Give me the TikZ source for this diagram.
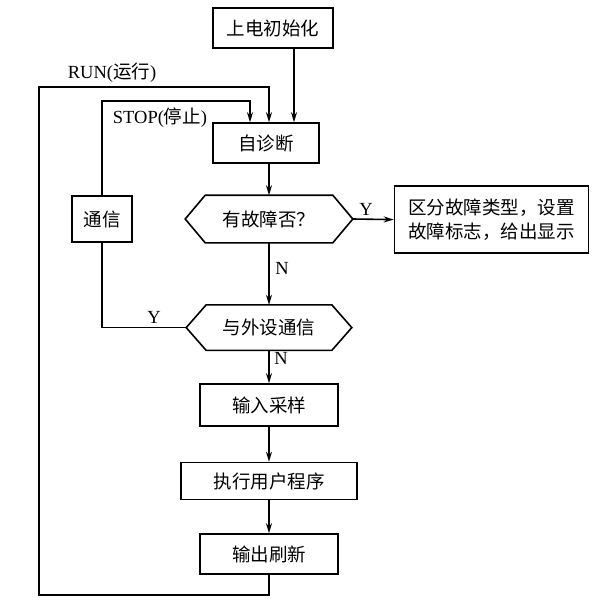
\documentclass[tikz,border=0pt]{standalone}
\usepackage{fontspec}
\setmainfont{Liberation Serif}
\newfontfamily\cjk{Noto Sans CJK SC}
\usetikzlibrary{arrows.meta}
\begin{document}
\begin{tikzpicture}[x=1pt,y=-1pt,line width=1.6pt,
  box/.style={draw,rectangle,inner sep=0pt,font=\cjk\fontsize{18.5}{24.5}\selectfont,align=center},
  hexbody/.style={rectangle,inner sep=0pt,font=\cjk\fontsize{18.5}{24.5}\selectfont},
  arr/.style={-{Stealth[length=10pt,width=6pt]}},
  lab/.style={font=\fontsize{18.5}{20}\selectfont,inner sep=0pt}]
\useasboundingbox (0,0) rectangle (612,613);
\fill[white] (0,0) rectangle (612,613);
% nodes
\node[box,minimum width=120pt,minimum height=40pt] (init) at (273,28) {上电初始化};
\node[box,minimum width=106pt,minimum height=40pt] (diag) at (266,143) {自诊断};
\node[hexbody,minimum width=126pt,minimum height=46pt] (fault) at (269,219) {有故障否？};
\coordinate (faultE) at ([xshift=20pt]fault.east);
\coordinate (faultW) at ([xshift=-20pt]fault.west);
\draw (fault.north west) -- (fault.north east) -- (faultE) -- (fault.south east) -- (fault.south west) -- (faultW) -- cycle;
\node[box,minimum width=194pt,minimum height=67pt] (mark) at (491.5,219.6) {区分故障类型，设置\\故障标志，给出显示};
\node[box,minimum width=60pt,minimum height=46pt] (comm) at (102,219) {通信};
\node[hexbody,minimum width=124pt,minimum height=44pt] (ext) at (269,327.6) {与外设通信};
\coordinate (extE) at ([xshift=20pt]ext.east);
\coordinate (extW) at ([xshift=-20pt]ext.west);
\draw (ext.north west) -- (ext.north east) -- (extE) -- (ext.south east) -- (ext.south west) -- (extW) -- cycle;
\node[box,minimum width=138pt,minimum height=42pt] (inp) at (269,405) {输入采样};
\node[box,minimum width=176pt,minimum height=37pt] (exe) at (269,481) {执行用户程序};
\node[box,minimum width=138pt,minimum height=40pt] (outp) at (269,554) {输出刷新};
% helper coordinates
\coordinate (runTL) at (39,87);
\coordinate (loopBL) at (39,595);
\coordinate (stopR) at (250,101);
% connectors
\draw[arr] ([xshift=21pt]init.south) -- ([xshift=21pt]init.south |- diag.north);
\draw[arr] (diag.south -| fault.north) -- (fault.north);
\draw[arr] (faultE) -- (mark.west);
\draw[arr] (fault.south) -- (ext.north);
\draw[arr] (ext.south) -- (inp.north);
\draw[arr] (inp.south) -- (exe.north);
\draw[arr] (exe.south) -- (outp.north);
\draw[arr] (outp.south) -- (outp.south |- loopBL) -- (loopBL) -- (runTL) -- (runTL -| fault.north) -- (diag.north -| fault.north);
\draw (extW) -- (extW -| comm.south) -- (comm.south);
\draw[arr] (comm.north) |- (stopR) -- (stopR |- diag.north);
% labels
\node[lab] (runlab) at (112,73) {RUN({\cjk 运行})};
\node[lab] (stoplab) at (160,118) {STOP({\cjk 停止})};
\node[lab] (y1) at (366,209) {Y};
\node[lab] (n1) at (282,268) {N};
\node[lab] (n2) at (281,358) {N};
\node[lab] (y2) at (154,317) {Y};
\end{tikzpicture}
\end{document}
